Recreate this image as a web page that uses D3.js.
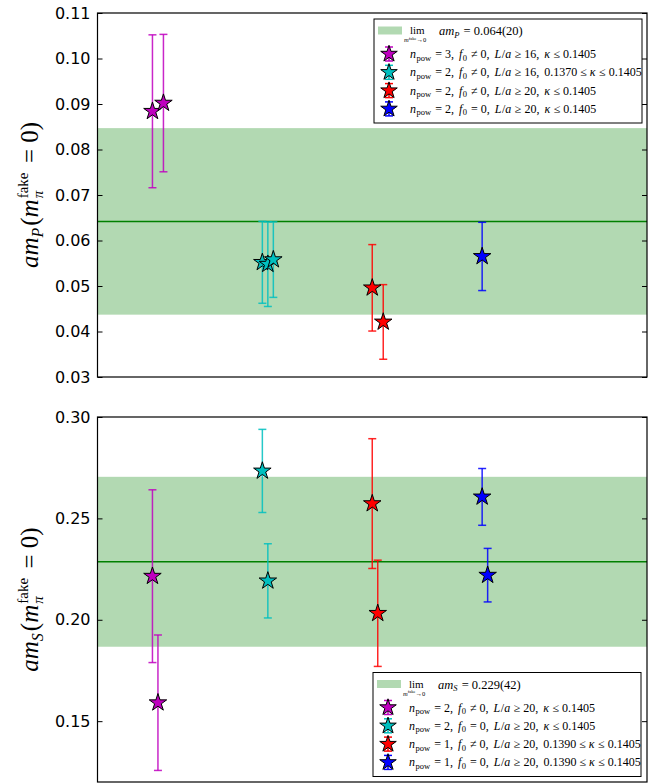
<!DOCTYPE html>
<html>
<head>
<meta charset="utf-8">
<script src="https://cdn.jsdelivr.net/npm/d3@7"></script>
<style>
  body { margin: 0; background: #fff; }
  svg { display: block; }
</style>
</head>
<body>
<svg id="chart" width="668" height="783"></svg>
<script>
// ---- data ----
const colors = ["#bf00bf", "#00bfbf", "#ff0000", "#0000ff"];

// upper panel: am_P
const topX = [[1, 1.1], [2, 2.05, 2.1], [3, 3.1], [4]];
const topY = [[0.0884, 0.0902], [0.0552, 0.0548, 0.0558], [0.0496, 0.0421], [0.0565]];
const topErr = [[0.0168, 0.0151], [0.0090, 0.0093, 0.0083], [0.0095, 0.0082], [0.0075]];
const topBand = [0.0642, 0.0205];
const topTicks = [0.03, 0.04, 0.05, 0.06, 0.07, 0.08, 0.09, 0.10, 0.11];

// lower panel: am_S
const botX = [[1, 1.05], [2, 2.05], [3, 3.05], [4, 4.05]];
const botY = [[0.2215, 0.1591], [0.2734, 0.2192], [0.2573, 0.2032], [0.2606, 0.2220]];
const botErr = [[0.0426, 0.0334], [0.0205, 0.0183], [0.0320, 0.0262], [0.0140, 0.0132]];
const botBand = [0.2286, 0.0419];
const botTicks = [0.15, 0.20, 0.25, 0.30];

// legend labels, tiny markup: i = italic, s = subscript, r = roman, c = comma + space
const topBandLabel = "P|0.064(20)";
const topLegend = [
  "i:n|s:pow|r: = 3|c:|i:f|s:0|r: ≠ 0|c:|i:L|r:/|i:a|r: ≥ 16|c:|i:κ|r: ≤ 0.1405",
  "i:n|s:pow|r: = 2|c:|i:f|s:0|r: ≠ 0|c:|i:L|r:/|i:a|r: ≥ 16|c:|r:0.1370 ≤ |i:κ|r: ≤ 0.1405",
  "i:n|s:pow|r: = 2|c:|i:f|s:0|r: ≠ 0|c:|i:L|r:/|i:a|r: ≥ 20|c:|i:κ|r: ≤ 0.1405",
  "i:n|s:pow|r: = 2|c:|i:f|s:0|r: = 0|c:|i:L|r:/|i:a|r: ≥ 20|c:|i:κ|r: ≤ 0.1405"
];
const botBandLabel = "S|0.229(42)";
const botLegend = [
  "i:n|s:pow|r: = 2|c:|i:f|s:0|r: ≠ 0|c:|i:L|r:/|i:a|r: ≥ 20|c:|i:κ|r: ≤ 0.1405",
  "i:n|s:pow|r: = 2|c:|i:f|s:0|r: = 0|c:|i:L|r:/|i:a|r: ≥ 20|c:|i:κ|r: ≤ 0.1405",
  "i:n|s:pow|r: = 1|c:|i:f|s:0|r: ≠ 0|c:|i:L|r:/|i:a|r: ≥ 20|c:|r:0.1390 ≤ |i:κ|r: ≤ 0.1405",
  "i:n|s:pow|r: = 1|c:|i:f|s:0|r: = 0|c:|i:L|r:/|i:a|r: ≥ 20|c:|r:0.1390 ≤ |i:κ|r: ≤ 0.1405"
];

const svg = d3.select("#chart");
const serif = "'Liberation Serif', 'DejaVu Serif', serif";
const left = 97.5, right = 647;

const x = d3.scaleLinear().domain([0.5, 5.5]).range([left, right]);

// writes a run of pieces one after another; returns the width used
function writePieces(g, pieces, size, x0, y0) {
  let cx = x0;
  pieces.forEach(p => {
    const t = g.append("text")
      .attr("x", cx)
      .attr("y", y0 + (p.dy || 0))
      .attr("font-family", serif)
      .attr("font-size", p.size || size)
      .attr("font-style", p.italic ? "italic" : "normal")
      .style("white-space", "pre")
      .text(p.t);
    cx += t.node().getComputedTextLength() + (p.gap || 0);
  });
  return cx - x0;
}

function parseMarkup(str) {
  return str.split("|").map(s => {
    const k = s.slice(0, 1), t = s.slice(2);
    if (k == "i") return {t: t, italic: true, gap: 0.5};
    if (k == "s") return {t: t, size: 8.5, dy: 2.5, gap: 1};
    if (k == "c") return {t: ", ", gap: 2};
    return {t: t};
  });
}

function star(size) {
  return d3.symbol().type(d3.symbolStar).size(size)();
}

function panel(top, bottom, domain, ticks, xs, ys, errs, band, bandLabel, legend, legendPos, yLetter) {
  const y = d3.scaleLinear().domain(domain).range([bottom, top]);
  const g = svg.append("g");

  // band + central value
  g.append("rect")
    .attr("x", left).attr("width", right - left)
    .attr("y", y(band[0] + band[1]))
    .attr("height", y(band[0] - band[1]) - y(band[0] + band[1]))
    .attr("fill", "#008000").attr("fill-opacity", 0.3);
  g.append("line")
    .attr("x1", left).attr("x2", right)
    .attr("y1", y(band[0])).attr("y2", y(band[0]))
    .attr("stroke", "#008000").attr("stroke-width", 1.5);

  // error bars and stars
  xs.forEach((xx, si) => {
    const pts = xx.map((v, i) => ({x: v, y: ys[si][i], e: errs[si][i]}));
    const sg = g.append("g");
    pts.forEach(p => {
      const px = x(p.x), yt = y(p.y + p.e), yb = y(p.y - p.e);
      sg.append("line").attr("x1", px).attr("x2", px).attr("y1", yt).attr("y2", yb)
        .attr("stroke", colors[si]).attr("stroke-width", 1.5).attr("stroke-opacity", 0.85);
      [yt, yb].forEach(cy => sg.append("line")
        .attr("x1", px - 4).attr("x2", px + 4).attr("y1", cy).attr("y2", cy)
        .attr("stroke", colors[si]).attr("stroke-width", 1.5).attr("stroke-opacity", 0.85));
    });
    sg.selectAll("path").data(pts).join("path")
      .attr("d", star(95))
      .attr("transform", d => `translate(${x(d.x)},${y(d.y)})`)
      .attr("fill", colors[si]).attr("stroke", "#000").attr("stroke-width", 1);
  });

  // axes: ticks point inward on both sides
  g.append("g").attr("transform", `translate(${left},0)`)
    .call(d3.axisLeft(y).tickValues(ticks).tickFormat(d3.format(".2f")).tickSize(-5).tickPadding(7))
    .call(a => a.select(".domain").remove())
    .call(a => a.selectAll("text").attr("font-family", "'DejaVu Sans', sans-serif").attr("font-size", 16).attr("fill", "#000"));
  g.append("g").attr("transform", `translate(${right},0)`)
    .call(d3.axisRight(y).tickValues(ticks).tickFormat("").tickSize(-5))
    .call(a => a.select(".domain").remove());
  g.append("rect")
    .attr("x", left).attr("y", top).attr("width", right - left).attr("height", bottom - top)
    .attr("fill", "none").attr("stroke", "#000").attr("stroke-width", 1.2);

  // y label, rotated
  const lab = g.append("g");
  const w = writePieces(lab, [
    {t: "am", italic: true},
    {t: yLetter, italic: true, size: 16, dy: 5, gap: 2},
    {t: "("},
    {t: "m", italic: true}
  ], 25, 0, 0);
  lab.append("text").attr("x", w + 1).attr("y", -10).attr("font-family", serif)
    .attr("font-size", 15).text("fake");
  lab.append("text").attr("x", w + 1).attr("y", 5).attr("font-family", serif)
    .attr("font-size", 15).attr("font-style", "italic").text("π");
  const w2 = writePieces(lab, [{t: " = 0)"}], 25, w + 30, 0);
  const total = w + 30 + w2;
  lab.attr("transform", `translate(38,${(top + bottom) / 2}) rotate(-90) translate(${-total / 2},0)`);

  // legend
  const lg = g.append("g").attr("transform", `translate(${legendPos[0]},${legendPos[1]})`);
  lg.append("rect").attr("width", 268).attr("height", 104)
    .attr("fill", "#fff").attr("stroke", "#000").attr("stroke-width", 1);
  lg.append("rect").attr("x", 4).attr("y", 7.5).attr("width", 24).attr("height", 8)
    .attr("fill", "#008000").attr("fill-opacity", 0.3);
  lg.append("text").attr("x", 36).attr("y", 15).attr("font-family", serif)
    .attr("font-size", 11).text("lim");
  const sub = lg.append("g");
  writePieces(sub, [
    {t: "m", italic: true, size: 6.5},
    {t: "fake", size: 4.5, dy: -2.5},
    {t: "→0", size: 6.5}
  ], 6.5, 30, 23);
  const parts = bandLabel.split("|");
  writePieces(lg, [
    {t: "am", italic: true},
    {t: parts[0], italic: true, size: 8.5, dy: 2.5, gap: 1},
    {t: " = " + parts[1]}
  ], 12.5, 65, 16);

  legend.forEach((lbl, i) => {
    const cy = 35 + i * 18.3;
    lg.append("line").attr("x1", 15).attr("x2", 15).attr("y1", cy - 7).attr("y2", cy + 7)
      .attr("stroke", colors[i]).attr("stroke-width", 1.5);
    [cy - 7, cy + 7].forEach(c => lg.append("line")
      .attr("x1", 11).attr("x2", 19).attr("y1", c).attr("y2", c)
      .attr("stroke", colors[i]).attr("stroke-width", 1.5));
    lg.append("path").attr("d", star(85)).attr("transform", `translate(15,${cy})`)
      .attr("fill", colors[i]).attr("stroke", "#000").attr("stroke-width", 1);
    writePieces(lg, parseMarkup(lbl), 12, 36, cy + 4);
  });
}

panel(13, 377, [0.03, 0.11], topTicks, topX, topY, topErr, topBand, topBandLabel, topLegend, [374, 19], "P");
panel(417, 782, [0.12, 0.30], botTicks, botX, botY, botErr, botBand, botBandLabel, botLegend, [373, 672.5], "S");
</script>
</body>
</html>
